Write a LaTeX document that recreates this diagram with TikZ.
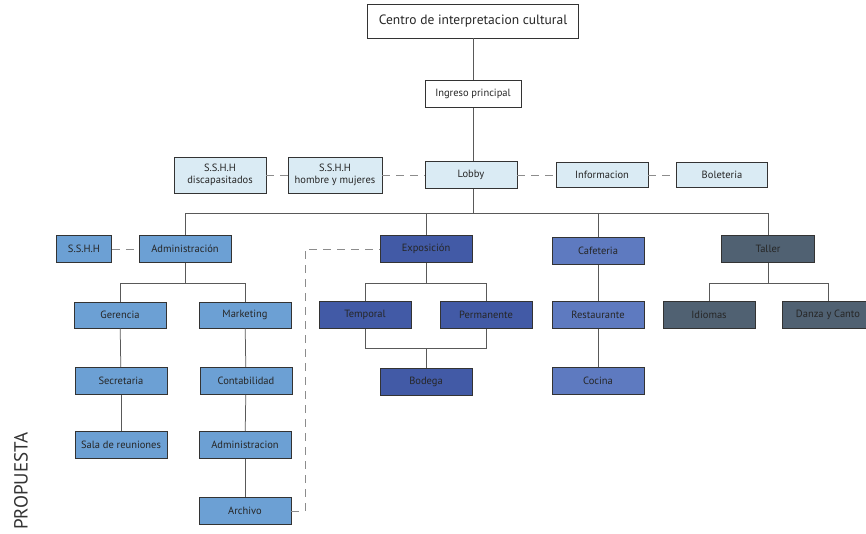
\documentclass[tikz,border=0pt]{standalone}
\usepackage{fontspec}
\setmainfont{PT Sans}
\begin{document}
\begin{tikzpicture}[x=1pt,y=-1pt,
  base/.style={draw=black!80, line width=0.7pt, inner sep=0pt, align=center, text=black!85, font=\fontsize{10.5}{11.5}\selectfont, minimum width=92pt, minimum height=27pt},
  white/.style={base, fill=white},
  adm/.style={base, fill=adm},
  exp/.style={base, fill=expc},
  caf/.style={base, fill=cafc},
  tal/.style={base, fill=talc},
  link/.style={draw=black!65, line width=0.75pt},
  dlink/.style={draw=black!45, line width=0.9pt, dash pattern=on 8pt off 6pt}]
\definecolor{adm}{RGB}{108,160,212}
\definecolor{expc}{RGB}{66,90,166}
\definecolor{cafc}{RGB}{94,122,192}
\definecolor{talc}{RGB}{80,97,114}
\definecolor{palec}{RGB}{218,235,244}
\useasboundingbox (0,0) rectangle (866,534);
\clip (0,0) rectangle (866,534);
% top
\node[white, minimum width=211pt, minimum height=34pt, font=\fontsize{13.5}{15}\selectfont] (centro) at (473,21) {Centro de interpretacion cultural};
\node[white, minimum width=96pt] (ingreso) at (473,94) {Ingreso principal};
% lobby row
\node[base, fill=palec] (lobby) at (471,175) {Lobby};
\node[base, fill=palec, minimum height=36pt] (sshhd) at (220,175) {S.S.H.H\\discapasitados};
\node[base, fill=palec, minimum width=94pt, minimum height=36pt] (sshhh) at (335,175) {S.S.H.H\\hombre y mujeres};
\node[base, fill=palec, minimum height=25pt] (info) at (602,175) {Informacion};
\node[base, fill=palec, minimum width=91pt, minimum height=25pt] (bol) at (722,175) {Boleteria};
% level 3
\node[adm, minimum width=55pt] (sshh) at (84,249) {S.S.H.H};
\node[adm] (admin) at (185,249) {Administración};
\node[exp] (expo) at (426,249) {Exposición};
\node[caf] (cafe) at (598,251) {Cafeteria};
\node[tal, minimum width=93pt] (taller) at (768,249) {Taller};
% level 4
\node[adm, minimum height=26pt] (geren) at (120,315) {Gerencia};
\node[adm, minimum height=26pt] (market) at (245,315) {Marketing};
\node[exp] (temporal) at (365,315) {Temporal};
\node[exp] (perman) at (486,315) {Permanente};
\node[caf] (rest) at (598,315) {Restaurante};
\node[tal] (idiom) at (709,315) {Idiomas};
\node[tal] (danza) at (828,315) {Danza y Canto};
% level 5
\node[adm] (secret) at (121,381) {Secretaria};
\node[adm] (contab) at (246,381) {Contabilidad};
\node[exp] (bodega) at (426,382) {Bodega};
\node[caf] (cocina) at (598,381) {Cocina};
% level 6
\node[adm] (sala) at (121,445) {Sala de reuniones};
\node[adm] (admin2) at (245,445) {Administracion};
% level 7
\node[adm] (archivo) at (245,511) {Archivo};
% label
\node[rotate=90, text=black!80, font=\fontsize{19}{20}\selectfont] (prop) at (21,481) {PROPUESTA};
% coordinates
\coordinate (bus) at (0,213);
\coordinate (br) at (0,283);
\coordinate (bm) at (0,348);
\coordinate (dx) at (305,0);
% solid links
\draw[link] (centro) -- (ingreso);
\draw[link] (ingreso) -- (ingreso |- lobby.north);
\draw[link] (ingreso |- lobby.south) -- (ingreso |- bus);
\draw[link] (admin.north) -- (admin.north |- bus) -- (taller.north |- bus) -- (taller.north);
\draw[link] (expo.north |- bus) -- (expo.north);
\draw[link] (cafe.north |- bus) -- (cafe.north);
% admin subtree
\draw[link] (admin.south) -- (admin.south |- br);
\draw[link] (geren.north) -- (geren.north |- br) -- (market.north |- br) -- (market.north);
\draw[link] (geren) -- (secret);
\draw[link] (secret) -- (sala);
\draw[link] (market) -- (contab);
\draw[link] (contab) -- (admin2);
\draw[link] (admin2) -- (archivo);
% expo subtree
\draw[link] (expo.south) -- (expo.south |- br);
\draw[link] (temporal.north) -- (temporal.north |- br) -- (perman.north |- br) -- (perman.north);
\draw[link] (temporal.south) -- (temporal.south |- bm) -- (perman.south |- bm) -- (perman.south);
\draw[link] (bodega.north |- bm) -- (bodega.north);
% cafe subtree
\draw[link] (cafe) -- (rest);
\draw[link] (rest) -- (cocina);
% taller subtree
\draw[link] (taller.south) -- (taller.south |- br);
\draw[link] (idiom.north) -- (idiom.north |- br) -- (danza.north |- br) -- (danza.north);
% dashed links
\draw[dlink] (sshhd) -- (sshhh);
\draw[dlink] (sshhh) -- (lobby);
\draw[dlink] (lobby) -- (info);
\draw[dlink] (info) -- (bol);
\draw[dlink] (sshh) -- (admin);
\draw[dlink] (archivo.east) -- (dx |- archivo) -- (dx |- expo) -- (expo.west);
\end{tikzpicture}
\end{document}
